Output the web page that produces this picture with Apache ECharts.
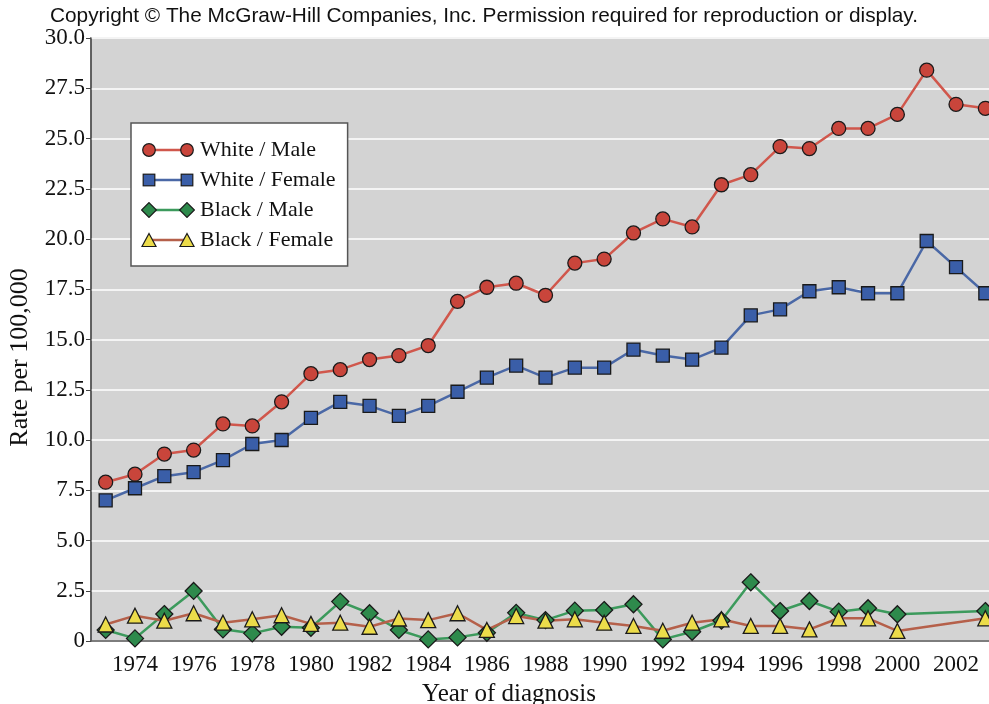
<!doctype html>
<html>
<head>
	<meta charset="utf-8">
	<title>Rate per 100,000 by year of diagnosis</title>
	<style>
		html, body { margin: 0; padding: 0; background: #fff; }
		#main { width: 989px; height: 704px; }
	</style>
</head>
<body>
<div id="main"></div>
<script src="https://cdn.jsdelivr.net/npm/echarts@6/dist/echarts.min.js"></script>
<script>
	// years on the x axis
	var years = []
	for (var y = 1973; y <= 2003; y++) years.push(String(y))

	var whiteMale = [7.9, 8.3, 9.3, 9.5, 10.8, 10.7, 11.9, 13.3, 13.5, 14.0, 14.2, 14.7, 16.9, 17.6, 17.8, 17.2,
		18.8, 19.0, 20.3, 21.0, 20.6, 22.7, 23.2, 24.6, 24.5, 25.5, 25.5, 26.2, 28.4, 26.7, 26.5]
	var whiteFemale = [7.0, 7.6, 8.2, 8.4, 9.0, 9.8, 10.0, 11.1, 11.9, 11.7, 11.2, 11.7, 12.4, 13.1, 13.7, 13.1,
		13.6, 13.6, 14.5, 14.2, 14.0, 14.6, 16.2, 16.5, 17.4, 17.6, 17.3, 17.3, 19.9, 18.6, 17.3]
	var blackMale = [0.55, 0.13, 1.34, 2.49, 0.58, 0.38, 0.71, 0.66, 1.96, 1.38, 0.55, 0.08, 0.18, 0.41, 1.4, 1.04,
		1.51, 1.54, 1.83, 0.08, 0.46, 1.02, 2.92, 1.49, 1.99, 1.46, 1.63, 1.33, null, null, 1.49]
	var blackFemale = [0.82, 1.26, 1.01, 1.38, 0.91, 1.08, 1.28, 0.85, 0.91, 0.71, 1.12, 1.04, 1.38, 0.55, 1.24, 1.01,
		1.08, 0.91, 0.75, 0.51, 0.91, 1.08, 0.75, 0.75, 0.58, 1.13, 1.13, 0.5, null, null, 1.13]
	var seriesNames = ['White / Male', 'White / Female', 'Black / Male', 'Black / Female']

	var serif = 'Liberation Serif'
	var myChart = echarts.init(document.getElementById('main'))

	// legend icon: line with a marker at each end, like the original key
	function legendIcon(shape, fill, line) {
		var mk = function (cx) {
			var s = ' fill="' + fill + '" stroke="#1a1a1a" stroke-width="1.2"'
			if (shape == 'circle') return '<circle cx="' + cx + '" cy="8" r="6.3"' + s + '/>'
			if (shape == 'rect') return '<rect x="' + (cx - 5.8) + '" y="2.2" width="11.6" height="11.6"' + s + '/>'
			if (shape == 'diamond') return '<polygon points="' + cx + ',0.6 ' + (cx + 7.4) + ',8 ' + cx + ',15.4 ' + (cx - 7.4) + ',8"' + s + '/>'
			return '<polygon points="' + cx + ',1.5 ' + (cx + 7) + ',14.5 ' + (cx - 7) + ',14.5"' + s + '/>'
		}
		var svg = '<svg xmlns="http://www.w3.org/2000/svg" width="54" height="16" viewBox="0 0 54 16">' +
			'<line x1="8" y1="8" x2="46" y2="8" stroke="' + line + '" stroke-width="2.5"/>' +
			mk(8) + mk(46) + '</svg>'
		return 'image://data:image/svg+xml;charset=utf-8,' + encodeURIComponent(svg)
	}

	function mkSeries(name, data, symbol, size, fill, line) {
		return {
			name: name,
			type: 'line',
			data: data,
			connectNulls: true,
			symbol: symbol,
			symbolSize: size,
			showAllSymbol: true,
			itemStyle: { color: fill, borderColor: '#1a1a1a', borderWidth: 1.3 },
			lineStyle: { color: line, width: 2.5 },
			emphasis: { disabled: true },
			animation: false
		}
	}

	var styles = [
		['circle', 14, '#c9453b', '#d0574c'],
		['rect', 13, '#3a5ea8', '#4a68a6'],
		['diamond', 17, '#2e8a4c', '#3c9a5c'],
		['triangle', 15, '#ecdc4a', '#b5604a']
	]
	var seriesData = [whiteMale, whiteFemale, blackMale, blackFemale]

	var option = {
		animation: false,
		title: {
			text: 'Copyright \u00a9 The McGraw-Hill Companies, Inc. Permission required for reproduction or display.',
			left: 479, top: 1, textAlign: 'center',
			textStyle: { fontFamily: 'Liberation Sans', fontWeight: 'normal', fontSize: 20.8, color: '#111' }
		},
		legend: {
			data: seriesNames.map(function (n, i) {
				return { name: n, icon: legendIcon(styles[i][0], styles[i][2], styles[i][3]) }
			}),
			orient: 'vertical',
			left: 131, top: 123,
			backgroundColor: '#fff',
			borderColor: '#555', borderWidth: 1.5,
			padding: [16, 12, 15, 10],
			itemWidth: 54, itemHeight: 16, itemGap: 8,
			textStyle: { fontFamily: serif, fontSize: 22, color: '#111' }
		},
		grid: {
			left: 91, top: 38, width: 909, height: 603,
			outerBoundsMode: 'none',
			containLabel: false,
			show: true, backgroundColor: '#d3d3d3',
			borderColor: '#666', borderWidth: 1.5
		},
		xAxis: {
			type: 'category',
			data: years,
			boundaryGap: true,
			name: 'Year of diagnosis',
			nameLocation: 'middle',
			nameGap: 41,
			nameTextStyle: { fontFamily: serif, fontSize: 25, color: '#111', padding: [0, 73, 0, 0] },
			axisLine: { lineStyle: { color: '#555', width: 1.5 } },
			axisTick: { alignWithLabel: true, interval: 0, length: 8, lineStyle: { color: '#444' } },
			axisLabel: {
				interval: function (i) { return i % 2 === 1 },
				margin: 12,
				fontFamily: serif, fontSize: 23, color: '#111'
			},
			splitLine: { show: false }
		},
		yAxis: {
			type: 'value',
			min: 0, max: 30, interval: 2.5,
			name: 'Rate per 100,000',
			nameLocation: 'middle',
			nameGap: 58,
			nameTextStyle: { fontFamily: serif, fontSize: 26, color: '#111', padding: [0, 36, 0, 0] },
			axisLine: { show: true, lineStyle: { color: '#555', width: 1.5 } },
			axisTick: { show: true, length: 5, lineStyle: { color: '#444' } },
			axisLabel: {
				margin: 6,
				fontFamily: serif, fontSize: 23, color: '#111',
				formatter: function (v) { return v === 0 ? '0' : v.toFixed(1) }
			},
			splitLine: { lineStyle: { color: '#f4f4f4', width: 2 } }
		},
		series: seriesNames.map(function (n, i) {
			return mkSeries(n, seriesData[i], styles[i][0], styles[i][1], styles[i][2], styles[i][3])
		})
	}
	myChart.setOption(option)
</script>
</body>
</html>
